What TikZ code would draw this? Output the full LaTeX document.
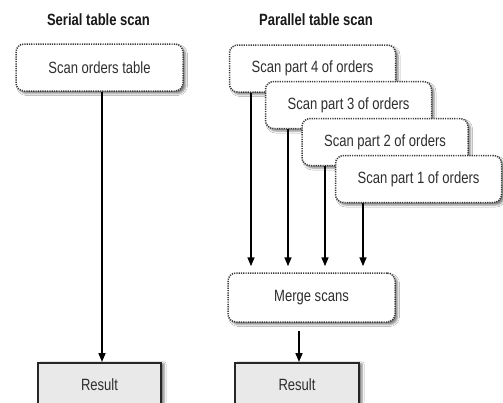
\documentclass[tikz,border=0pt]{standalone}
\usepackage{fontspec}
\newfontfamily\bodyfont[FakeStretch=0.8]{Liberation Sans}
\usetikzlibrary{arrows.meta,shadows.blur}
\definecolor{txt}{HTML}{2E2E2E}
\definecolor{brd}{HTML}{3A3A3A}
\definecolor{resfill}{HTML}{E9E9E9}
\begin{document}
\begin{tikzpicture}[x=1pt,y=-1pt,
  title/.style={font=\bodyfont\fontsize{16.3}{19}\selectfont\bfseries, text=black!90, inner sep=0pt},
  sbox/.style={draw=brd, line width=1.5pt, dash pattern=on 1.2pt off 1.1pt,
    rounded corners=8pt, fill=white, text=txt, inner sep=0pt,
    font=\bodyfont\fontsize{16.3}{19}\selectfont,
    minimum width=166pt, minimum height=47pt,
    blur shadow={shadow xshift=2.5pt, shadow yshift=-2.5pt, shadow blur radius=2pt, shadow opacity=50}},
  rbox/.style={draw=black!85, line width=1.5pt, fill=resfill, text=txt, inner sep=0pt,
    font=\bodyfont\fontsize{16.3}{19}\selectfont,
    minimum height=50pt,
    blur shadow={shadow xshift=3pt, shadow yshift=-1pt, shadow blur radius=2pt, shadow opacity=50}},
  arr/.style={draw=black, line width=1.6pt, -{Triangle[length=9pt,width=7pt]}}]
\clip (0,0) rectangle (503,402);
\fill[white] (0,0) rectangle (503,402);
\node[title] (t1) at (98.5,20) {Serial table scan};
\node[title] (t2) at (316,20) {Parallel table scan};
\node[sbox, minimum width=167pt] (scan) at (99.5,67.5) {Scan orders table};
\node[rbox, minimum width=123pt, anchor=north] (res1) at (99.5,362) {\raisebox{7pt}{Result}};
\draw[arr] ([xshift=2.5pt]scan.south) -- ([xshift=2.5pt]res1.north);

\node[sbox] (b4) at (312.5,68.5) {Scan part 4 of orders};
\node[sbox] (b3) at (348.5,105) {Scan part 3 of orders};
\node[sbox] (b2) at (385,142) {Scan part 2 of orders};
\node[sbox] (b1) at (418.5,179) {Scan part 1 of orders};
\node[sbox, minimum width=167pt, minimum height=49pt] (merge) at (311.5,297.5) {Merge scans};
\node[rbox, minimum width=124pt, anchor=north] (res2) at (297,362) {\raisebox{7pt}{Result}};
\coordinate (mt) at ([yshift=6pt]merge.north);
\coordinate (a4) at ([xshift=-61.5pt]b4.south);
\coordinate (a3) at ([xshift=-60.5pt]b3.south);
\coordinate (a2) at ([xshift=-60pt]b2.south);
\coordinate (a1) at ([xshift=-55.5pt]b1.south);
\draw[arr] (a4) -- (mt -| a4);
\draw[arr] (a3) -- (mt -| a3);
\draw[arr] (a2) -- (mt -| a2);
\draw[arr] (a1) -- (mt -| a1);
\coordinate (ms) at ([xshift=-12.5pt,yshift=-8pt]merge.south);
\draw[arr] (ms) -- (res2.north -| ms);
\end{tikzpicture}
\end{document}
